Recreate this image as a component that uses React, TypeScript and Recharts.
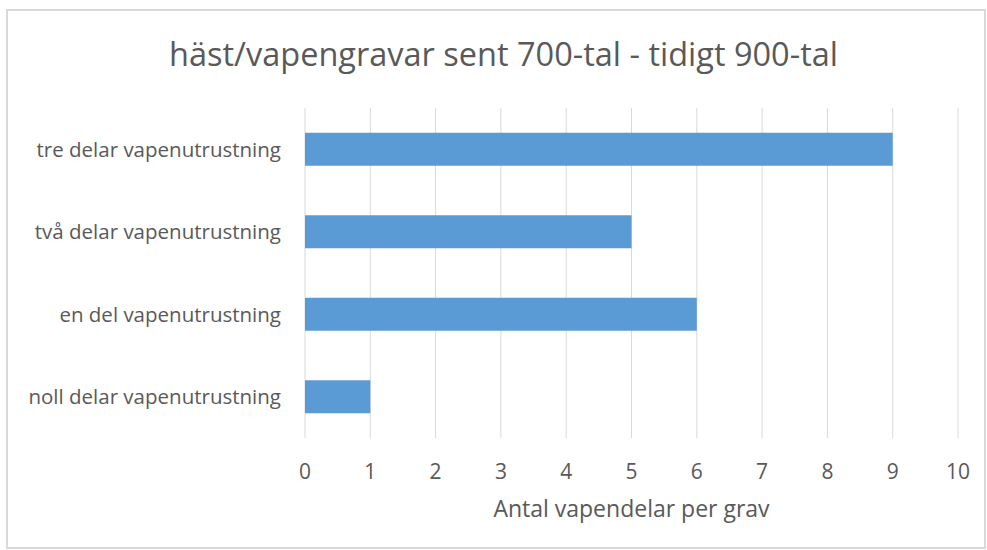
import React from "react"
import { Bar, BarChart, CartesianGrid, XAxis, YAxis } from "recharts"

// kategorier uppifrån och ned
const categories = [
  "tre delar vapenutrustning",
  "två delar vapenutrustning",
  "en del vapenutrustning",
  "noll delar vapenutrustning",
]
const counts = [9, 5, 6, 1]
const xTicks = [0, 1, 2, 3, 4, 5, 6, 7, 8, 9, 10]

const title = "häst/vapengravar sent 700-tal - tidigt 900-tal"
const xLabel = "Antal vapendelar per grav"

const data = categories.map((name, i) => ({ name, value: counts[i] }))

const textColor = "#595959"
const font = "'Open Sans', sans-serif"

export default function App() {
  return (
    <div
      style={{
        position: "fixed",
        left: 0,
        top: 0,
        width: 987,
        height: 550,
        background: "#fff",
        fontFamily: font,
        overflow: "hidden",
      }}
    >
      <div
        style={{
          position: "absolute",
          left: 6,
          top: 9,
          width: 976,
          height: 536,
          border: "2px solid #D9D9D9",
          boxSizing: "content-box",
        }}
      />
      <div
        style={{
          position: "absolute",
          left: 20,
          top: 32,
          width: 967,
          textAlign: "center",
          fontSize: 32.5,
          color: textColor,
          lineHeight: "44px",
          whiteSpace: "nowrap",
        }}
      >
        {title}
      </div>
      <div style={{ position: "absolute", left: 0, top: 0 }}>
        <BarChart
          width={987}
          height={550}
          data={data}
          layout="vertical"
          margin={{ top: 108, right: 29, bottom: 82, left: 0 }}
          barCategoryGap="30%"
        >
          <CartesianGrid horizontal={false} stroke="#D9D9D9" strokeWidth={1} />
          <XAxis
            type="number"
            domain={[0, 10]}
            ticks={xTicks}
            interval={0}
            axisLine={false}
            tickLine={false}
            tickMargin={20}
            tick={{ fill: textColor, fontSize: 21, fontFamily: font }}
            label={{
              value: xLabel,
              position: "insideBottom",
              offset: -49,
              fill: textColor,
              fontSize: 23,
              fontFamily: font,
            }}
          />
          <YAxis
            type="category"
            dataKey="name"
            width={305}
            axisLine={false}
            tickLine={false}
            tickMargin={18}
            tick={{ fill: textColor, fontSize: 20.5, fontFamily: font }}
          />
          <Bar dataKey="value" fill="#5B9BD5" isAnimationActive={false} />
        </BarChart>
      </div>
    </div>
  )
}
